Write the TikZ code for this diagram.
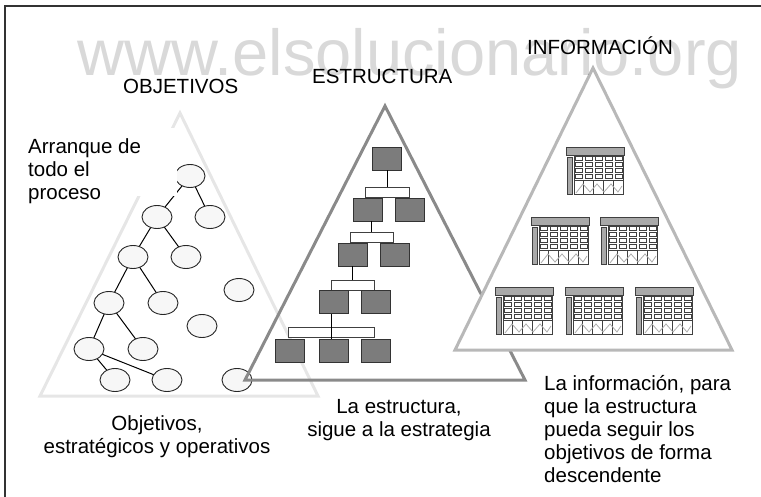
\documentclass[tikz,border=0pt]{standalone}
\usepackage{fontspec}
\setmainfont{Liberation Sans}
\usetikzlibrary{shapes.geometric}
\definecolor{faintgray}{HTML}{E6E6E6}
\definecolor{ellfill}{HTML}{F7F7F7}
\definecolor{strgray}{HTML}{8A8A8A}
\definecolor{boxgray}{HTML}{7C7C7C}
\definecolor{infogray}{HTML}{B8B8B8}
\definecolor{headgray}{HTML}{A9A9A9}

\tikzset{
  tablehead/.style={draw=black!75, fill=headgray, line width=0.8pt},
  tablecell/.style={draw=black!75, fill=white, line width=0.8pt},
  infotable/.pic={
    % header and side bar
    \draw[tablehead] (0,0) rectangle (58,8);
    \draw[tablehead] (1,10) rectangle (6,47);
    % grid of cells
    \draw[tablecell] (8,9) rectangle (57,47);
    \foreach \c in {0,...,4}{
      \foreach \r in {0,...,3}
        \draw[tablecell] (9+\c*10,9.8+\r*5.8) rectangle ++(7.7,4);
      \draw[tablecell] (8+\c*9.8,33.5) rectangle ++(9.8,13.5);
    }
    \draw[gray!65, line width=0.8pt] (10,46) -- (17,37) -- (24,45) -- (31,37)
      -- (38,45) -- (45,37) -- (52,45) -- (56,39);
  }
}

\begin{document}
\begin{tikzpicture}[
    x=1pt, y=-1pt,
    every node/.style={font=\fontsize{20.5}{23}\selectfont, inner sep=0pt},
    objnode/.style={ellipse, draw=black!85, fill=ellfill, line width=0.9pt,
        minimum width=30pt, minimum height=23pt},
    treeline/.style={line width=1pt},
    orgbox/.style={rectangle, draw=black!80, fill=boxgray, line width=0.9pt,
        minimum width=29pt, minimum height=23pt},
    orgbar/.style={rectangle, draw=black!75, fill=white, line width=0.9pt,
        minimum height=10pt},
    bigtri/.style={line width=3pt, line join=miter},
]
\useasboundingbox (0,0) rectangle (761,497);

% frame
\draw[black!80, line width=1.5pt] (5,497) -- (5,6) -- (761,6);

% --- Objetivos ---
\draw[faintgray, bigtri] (180,113) -- (318,396) -- (40,396) -- cycle;

\draw[treeline] (190,176) -- (210,217);
\draw[treeline] (190,176) -- (157,217);
\draw[treeline] (157,217) -- (133,257);
\draw[treeline] (157,217) -- (186,257);
\draw[treeline] (133,257) -- (109,303);
\draw[treeline] (133,257) -- (163,303);
\draw[treeline] (109,303) -- (89,349);
\draw[treeline] (109,303) -- (143,349);
\draw[treeline] (89,349) -- (115,380);
\draw[treeline] (89,349) -- (167,380);

\node[objnode] (o1) at (190,176) {};
\node[objnode] (o2) at (210,217) {};
\node[objnode] (o3) at (157,217) {};
\node[objnode] (o4) at (133,257) {};
\node[objnode] (o5) at (186,257) {};
\node[objnode] (o6) at (239,290) {};
\node[objnode] (o7) at (109,303) {};
\node[objnode] (o8) at (163,303) {};
\node[objnode] (o9) at (202,326) {};
\node[objnode] (o10) at (89,349) {};
\node[objnode] (o11) at (143,349) {};
\node[objnode] (o12) at (115,380) {};
\node[objnode] (o13) at (167,380) {};
\node[objnode] (o14) at (237,380) {};

\fill[white] (22,128) rectangle (177,196);
% multi-line nodes: base is the last line
\node[anchor=base west, align=left] (start) at (28,200)
    {Arranque de\\todo el\\proceso};

% --- Estructura ---
\draw[strgray, bigtri] (385,106) -- (525,380) -- (245,380) -- cycle;

\node[orgbox] (s1) at (387,158.5) {};
\node[orgbar, minimum width=44pt] (b1) at (387,192) {};
\node[orgbox] (s2) at (367.5,209.5) {};
\node[orgbox] (s3) at (410,209.5) {};
\node[orgbar, minimum width=43pt] (b2) at (371.5,237) {};
\node[orgbox] (s4) at (352.5,254.5) {};
\node[orgbox] (s5) at (394.5,254.5) {};
\node[orgbar, minimum width=43pt] (b3) at (352.5,285) {};
\node[orgbox] (s6) at (333.5,302) {};
\node[orgbox] (s7) at (375.5,302) {};
\node[orgbar, minimum width=86pt] (b4) at (331,332.5) {};
\node[orgbox] (s8) at (289.5,350.5) {};
\node[orgbox] (s9) at (333.5,350.5) {};
\node[orgbox] (s10) at (375.5,350.5) {};

\draw[treeline] (s1.south) -- (b1.north);
\draw[treeline] (b2.north |- s2.south) -- (b2.north);
\draw[treeline] (b3.north |- s4.south) -- (b3.north);
\draw[treeline] (b4.north |- s6.south) -- (b4.north |- s9.north);

% --- Informacion ---
\draw[infogray, bigtri, fill=white] (593,68) -- (732,350) -- (455,350) -- cycle;

\pic at (566,147) {infotable};
\pic at (531,217) {infotable};
\pic at (600,217) {infotable};
\pic at (495,287) {infotable};
\pic at (565,287) {infotable};
\pic at (635,287) {infotable};

% titles
\node[anchor=base west] (tobj) at (123,94) {OBJETIVOS};
\node[anchor=base west] (tstr) at (312,84) {ESTRUCTURA};
\node[anchor=base west] (tinf) at (527,55) {INFORMACIÓN};

% captions
\node[anchor=base, align=center] (cobj) at (157,453)
    {Objetivos,\\estratégicos y operativos};
\node[anchor=base, align=center] (cstr) at (399,436)
    {La estructura,\\sigue a la estrategia};
\node[anchor=base west, align=left] (cinf) at (544,482)
    {La información, para\\que la estructura\\pueda seguir los\\objetivos de forma\\descendente};

% watermark
\node[anchor=base west, font=\fontsize{65}{70}\selectfont, text=black,
    text opacity=0.15] (mark) at (77,76) {www.elsolucionario.org};

\end{tikzpicture}
\end{document}
